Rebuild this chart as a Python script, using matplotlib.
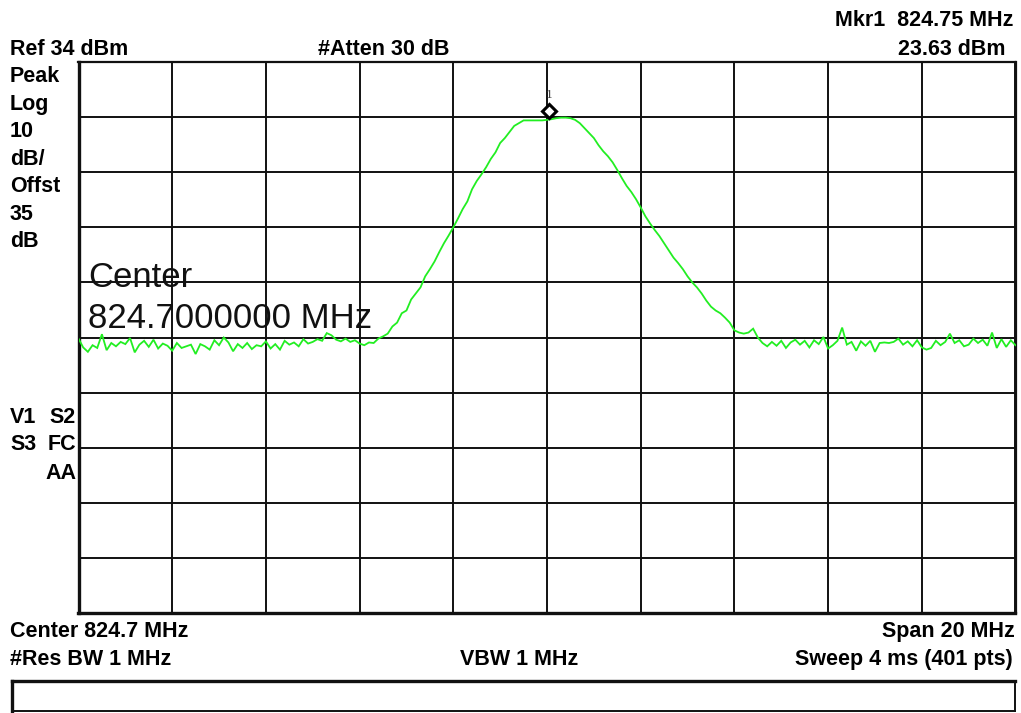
import numpy as np
import matplotlib
matplotlib.use("Agg")
import matplotlib.pyplot as plt
from matplotlib.transforms import offset_copy
from matplotlib.lines import Line2D

# ---------------- data ----------------
f_start, f_stop = 814.7, 834.7          # MHz
ref_level, db_per_div = 34, 10           # dBm, dB/div
n_points = 201

noise_left = [
    -16.2, -17.8, -18.6, -17.4, -17.9, -15.4, -18.3, -17.0, -17.6, -16.8,
    -17.2, -16.1, -18.7, -17.3, -16.6, -17.7, -16.4, -18.0, -17.1, -17.5,
    -18.4, -17.0, -17.9, -17.6, -17.3, -19.0, -17.2, -17.6, -18.2, -16.5,
    -17.4, -16.0, -16.9, -18.5, -17.2, -17.9, -17.0, -18.1, -17.4, -17.6,
    -16.7, -18.0, -17.2, -18.2, -16.6, -17.3, -16.9, -17.6, -16.3, -17.1,
    -16.8, -16.3, -16.6, -15.2, -15.6, -16.4, -16.7, -16.2, -16.8, -16.5,
    -17.1, -17.4, -16.9, -17.0, -16.2,
]
carrier = [
    -15.8, -15.3, -14.0, -13.3, -11.6, -11.1, -9.1, -8.0, -6.9, -4.9,
    -3.6, -2.2, -0.5, 1.1, 2.5, 4.0, 5.6, 7.3, 8.7, 10.9,
    12.4, 13.6, 14.9, 16.4, 17.6, 19.3, 20.2, 21.3, 22.4, 22.9,
    23.4, 23.4, 23.4, 23.4, 23.4, 23.5, 23.63, 23.8, 23.9, 23.9,
    23.8, 23.5, 22.9, 22.0, 21.1, 20.2, 18.9, 17.8, 16.9, 15.8,
    14.4, 12.9, 11.5, 10.4, 9.1, 7.6, 6.0, 4.7, 3.5, 2.4,
    1.1, -0.2, -1.5, -2.5, -3.6, -4.9, -6.0, -6.9, -8.0, -9.3,
    -10.4, -11.1, -11.6, -12.4, -13.3, -14.7, -15.1, -15.3, -15.1, -14.4,
    -16.0,
]
noise_right = [
    -17.0, -17.6, -16.8, -17.5, -16.6, -17.9, -16.9, -16.4, -17.3, -16.6,
    -17.8, -16.5, -17.2, -15.9, -18.0, -17.4, -16.6, -14.2, -17.3, -16.8,
    -18.4, -16.7, -17.5, -16.6, -18.6, -17.0, -16.9, -17.0, -16.8, -16.2,
    -17.3, -16.7, -17.6, -16.5, -17.8, -18.2, -17.9, -16.6, -17.4, -16.8,
    -15.3, -17.0, -16.5, -17.6, -17.3, -16.2, -17.0, -16.4, -17.5, -15.1,
    -17.9, -16.3, -17.7, -16.5, -17.4,
]
trace_dbm = noise_left + carrier + noise_right

marker_freq = 824.75
marker_dbm = 23.63

# ---------------- figure ----------------
W, H = 1021, 713
fig = plt.figure(figsize=(W / 100, H / 100), dpi=100)
fig.patch.set_facecolor("white")

L, R, T, B = 78.5, 1015.5, 62.0, 613.0
ax = fig.add_axes([L / W, 1 - B / H, (R - L) / W, (B - T) / H])

freq = np.linspace(f_start, f_stop, n_points)
ax.plot(freq, trace_dbm, color="#22ee22", lw=1.3, zorder=3, solid_joinstyle="miter")

bottom_level = ref_level - 10 * db_per_div
ax.set_xlim(f_start, f_stop)
ax.set_ylim(bottom_level, ref_level)
ax.set_xticks(np.linspace(f_start, f_stop, 11))
ax.set_yticks(np.linspace(bottom_level, ref_level, 11))
ax.grid(True, color="#111111", lw=1.4, zorder=1)
ax.tick_params(length=0, labelbottom=False, labelleft=False)
for s in ["left", "bottom"]:
    ax.spines[s].set_linewidth(2.4)
for s in ["top", "right"]:
    ax.spines[s].set_linewidth(1.6)
for s in ax.spines.values():
    s.set_color("#111111")

# marker
mtr = offset_copy(ax.transData, fig=fig, x=0, y=8, units="dots")
ax.plot([marker_freq], [marker_dbm], marker="D", ms=7.5, mfc="white",
        mec="black", mew=2.2, transform=mtr, zorder=5, clip_on=False)
ltr = offset_copy(ax.transData, fig=fig, x=0, y=19, units="dots")
ax.text(marker_freq, marker_dbm, "1", transform=ltr, ha="center", va="bottom",
        fontsize=8, color="#444444", family="DejaVu Serif", zorder=5)

# ---------------- texts ----------------
BF = dict(family="Liberation Sans", fontweight="bold", fontsize=15.5, color="black")


def put(x, y, s, ha="left", **kw):
    opts = dict(BF)
    opts.update(kw)
    fig.text(x / W, 1 - y / H, s, ha=ha, va="baseline", **opts)


put(1013, 26.5, "Mkr1  824.75 MHz", ha="right")
put(10, 55, "Ref 34 dBm")
put(318, 55, "#Atten 30 dB")
put(1005, 55, "23.63 dBm", ha="right")

side = ["Peak", "Log", "10", "dB/", "Offst", "35", "dB"]
for k, s in enumerate(side):
    put(10, 82.5 + 27.4 * k, s)

put(10, 423, "V1")
put(76, 423, "S2", ha="right")
put(10, 450, "S3")
put(76, 450, "FC", ha="right")
put(76, 479, "AA", ha="right")

big = dict(family="Liberation Sans", fontweight="normal", fontsize=25, color="#111111")
fig.text(88 / W, 1 - 287 / H, "Center", ha="left", va="baseline", **big)
fig.text(88 / W, 1 - 328 / H, "824.7000000 MHz", ha="left", va="baseline", **big)

put(10, 637, "Center 824.7 MHz")
put(1015, 637, "Span 20 MHz", ha="right")
put(10, 665, "#Res BW 1 MHz")
put(460, 665, "VBW 1 MHz")
put(1013, 665, "Sweep 4 ms (401 pts)", ha="right")

# bottom box
bx0, bx1, by0, by1 = 12, 1015, 681, 711
def fl(x0, y0, x1, y1, lw):
    fig.add_artist(Line2D([x0 / W, x1 / W], [1 - y0 / H, 1 - y1 / H],
                          transform=fig.transFigure, color="#111111", lw=lw,
                          solid_capstyle="projecting"))
fl(bx0, by0, bx1, by0, 2.4)
fl(bx0, by0, bx0, by1, 2.4)
fl(bx1, by0, bx1, by1, 1.4)
fl(bx0, by1, bx1, by1, 1.4)

fig.savefig("out.png", dpi=100, facecolor="white")
